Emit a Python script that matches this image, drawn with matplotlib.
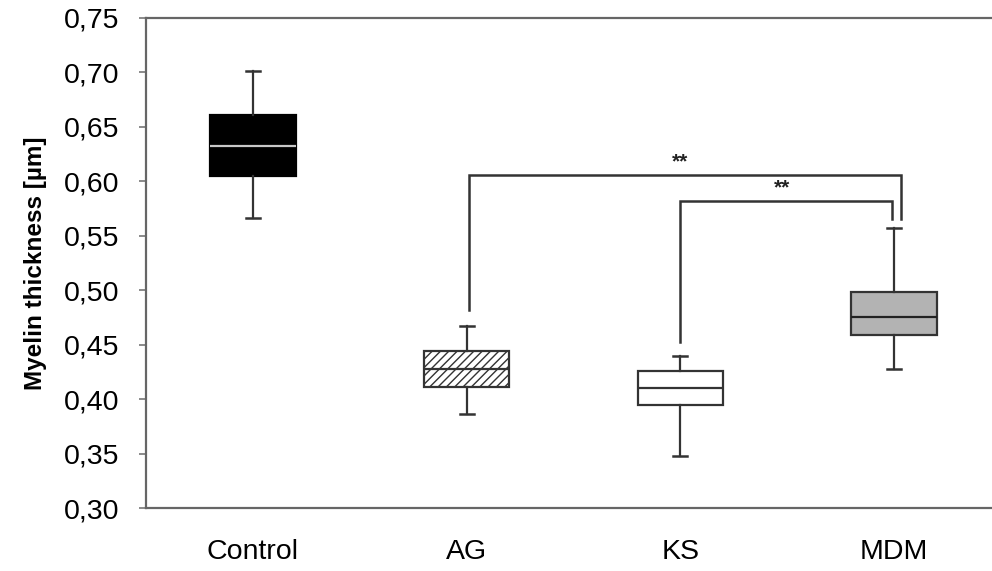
import matplotlib
matplotlib.use("Agg")
import matplotlib.pyplot as plt
from matplotlib.ticker import FuncFormatter

plt.rcParams['font.family'] = ['Liberation Sans', 'DejaVu Sans']
plt.rcParams['hatch.color'] = '#444444'
plt.rcParams['hatch.linewidth'] = 1.0

groups = ["Control", "AG", "KS", "MDM"]
whis_lo = [0.566, 0.386, 0.348, 0.428]
q1 = [0.605, 0.411, 0.395, 0.459]
med = [0.632, 0.428, 0.410, 0.475]
q3 = [0.661, 0.444, 0.426, 0.498]
whis_hi = [0.701, 0.467, 0.440, 0.557]

faces = ["black", "white", "white", "#b3b3b3"]
hatches = [None, "////", None, None]
med_colors = ["#c8c8c8", "#333333", "#333333", "#222222"]

# significance brackets: x left, x right, bar height, left foot, right foot
br_xl = [2.01, 3.00]
br_xr = [4.03, 3.99]
br_y = [0.606, 0.582]
br_yl = [0.482, 0.452]
br_yr = [0.565, 0.565]
br_txt = ["**", "**"]

fig = plt.figure(figsize=(9.92, 5.71), dpi=100)
ax = fig.add_axes([0.1472, 0.1103, 0.8528, 0.8582])

stats = []
for i, g in enumerate(groups):
    stats.append(dict(label=g, whislo=whis_lo[i], q1=q1[i], med=med[i],
                      q3=q3[i], whishi=whis_hi[i], fliers=[]))

bp = ax.bxp(stats, positions=range(1, 5), widths=0.4, patch_artist=True,
            showfliers=False, capwidths=0.065,
            boxprops=dict(linewidth=1.6, edgecolor="#333333"),
            whiskerprops=dict(linewidth=1.6, color="#333333"),
            capprops=dict(linewidth=1.8, color="#333333"),
            medianprops=dict(linewidth=1.6))
for i, b in enumerate(bp["boxes"]):
    b.set_facecolor(faces[i])
    if hatches[i]:
        b.set_hatch(hatches[i])
    if i == 0:
        b.set_edgecolor("black")
for i, m in enumerate(bp["medians"]):
    m.set_color(med_colors[i])

for xl, xr, yb, yl, yr, t in zip(br_xl, br_xr, br_y, br_yl, br_yr, br_txt):
    ax.plot([xl, xl, xr, xr], [yl, yb, yb, yr], color="#333333", lw=1.8,
            solid_joinstyle="miter")
    ax.text((xl + xr) / 2 - 0.02, yb + 0.003, t, ha="center", va="bottom",
            fontsize=15, fontweight="bold", color="#222222")

ax.set_xlim(0.5, 4.458)
ax.set_ylim(0.30, 0.75)
ax.set_yticks([0.30 + 0.05 * k for k in range(10)])
ax.yaxis.set_major_formatter(FuncFormatter(lambda v, p: f"{v:.2f}".replace(".", ",")))
ax.set_xticks(range(1, 5))
ax.set_xticklabels(groups)
ax.tick_params(axis="y", direction="out", length=5, width=1.2, color="#777777",
               labelsize=20.5, pad=14)
ax.tick_params(axis="x", length=0, labelsize=20.5, pad=22)
ax.set_ylabel("Myelin thickness [µm]", fontsize=17.5, fontweight="bold", labelpad=12)

for s in ["left", "top", "bottom"]:
    ax.spines[s].set_color("#666666")
    ax.spines[s].set_linewidth(1.6)
ax.spines["right"].set_visible(False)

fig.savefig("out.png", dpi=100)
